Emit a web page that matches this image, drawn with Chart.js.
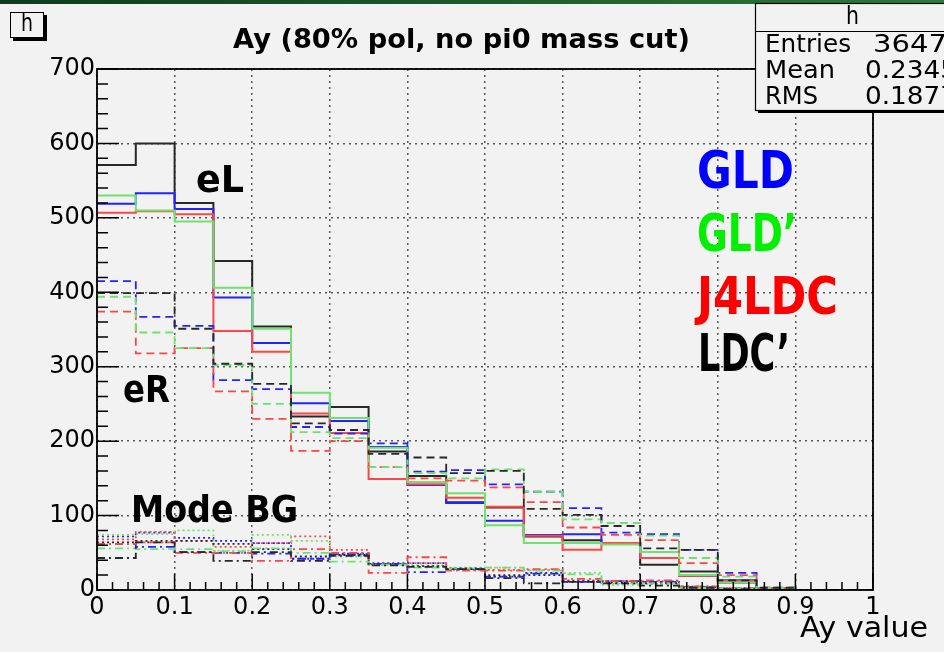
<!DOCTYPE html>
<html lang="en">
<head>
<meta charset="UTF-8">
<title>Ay (80% pol, no pi0 mass cut)</title>
<script src="https://cdn.jsdelivr.net/npm/chart.js"></script>
<style>
  html, body { margin: 0; padding: 0; background: #f2f2f2; }
  canvas { display: block; }
</style>
</head>
<body>
<canvas id="myChart" width="944" height="652"></canvas>
<script>
// histogram h : 20 bins from 0 to 1
const binEdges = [0, 0.05, 0.1, 0.15, 0.2, 0.25, 0.3, 0.35, 0.4, 0.45, 0.5,
                  0.55, 0.6, 0.65, 0.7, 0.75, 0.8, 0.85, 0.9, 0.95, 1];
const xTickValues = [0, 0.1, 0.2, 0.3, 0.4, 0.5, 0.6, 0.7, 0.8, 0.9, 1];
const xTickLabels = ['0', '0.1', '0.2', '0.3', '0.4', '0.5', '0.6', '0.7', '0.8', '0.9', '1'];
const yTickValues = [0, 100, 200, 300, 400, 500, 600, 700];
const yTickLabels = ['0', '100', '200', '300', '400', '500', '600', '700'];

const detectors = ['GLD', 'GLD’', 'J4LDC', 'LDC’'];
const colors = ['rgb(35,35,255)', 'rgb(110,225,110)', 'rgb(255,70,70)', 'rgb(40,40,40)'];

// eL (solid)
const eL_GLD   = [519, 533, 512, 393, 332, 251, 227, 192, 141, 117, 93, 74, 75, 63, 43, 19, 13, 2, 0, 0];
const eL_GLDp  = [530, 510, 495, 406, 351, 265, 231, 191, 145, 130, 87, 63, 63, 61, 51, 20, 10, 2, 0, 0];
const eL_J4LDC = [507, 509, 505, 348, 320, 237, 211, 149, 142, 124, 112, 73, 54, 63, 43, 19, 12, 2, 0, 0];
const eL_LDCp  = [571, 600, 520, 442, 354, 233, 246, 186, 153, 118, 111, 72, 67, 63, 34, 25, 10, 2, 0, 0];

// eR (dashed)
const eR_GLD   = [415, 367, 355, 282, 270, 219, 210, 197, 159, 161, 142, 132, 110, 77, 75, 54, 23, 3, 0, 0];
const eR_GLDp  = [394, 346, 325, 302, 250, 212, 204, 165, 157, 150, 162, 132, 95, 90, 73, 43, 18, 3, 0, 0];
const eR_J4LDC = [374, 318, 325, 267, 230, 187, 200, 165, 150, 147, 138, 118, 84, 74, 67, 36, 20, 2, 0, 0];
const eR_LDCp  = [399, 399, 351, 304, 277, 224, 215, 183, 178, 157, 160, 109, 101, 86, 56, 54, 13, 3, 0, 0];

// Mode BG (dotted)
const bgA_GLD   = [72, 77, 70, 66, 63, 42, 49, 36, 36, 28, 18, 23, 11, 12, 11, 4, 2, 0, 0, 0];
const bgA_GLDp  = [74, 75, 80, 53, 74, 66, 45, 34, 33, 30, 30, 27, 23, 7, 8, 3, 2, 0, 0, 0];
const bgA_J4LDC = [68, 78, 66, 58, 63, 72, 54, 34, 36, 27, 27, 27, 13, 12, 12, 5, 2, 0, 0, 0];
const bgA_LDCp  = [64, 66, 66, 62, 55, 45, 47, 35, 32, 29, 20, 20, 12, 10, 9, 3, 1, 0, 0, 0];

// Mode BG (dash-dot)
const bgB_GLD   = [62, 58, 51, 50, 49, 42, 48, 35, 24, 28, 18, 22, 11, 12, 11, 4, 2, 0, 0, 0];
const bgB_GLDp  = [56, 55, 55, 52, 56, 50, 38, 34, 30, 29, 30, 26, 21, 9, 9, 3, 2, 0, 0, 0];
const bgB_J4LDC = [62, 64, 50, 50, 39, 55, 50, 23, 44, 26, 26, 28, 15, 12, 13, 5, 2, 0, 0, 0];
const bgB_LDCp  = [43, 64, 51, 39, 51, 39, 46, 33, 31, 28, 16, 9, 11, 9, 6, 3, 1, 0, 0, 0];

const FONT = '"DejaVu Sans", sans-serif';

function hist(values) {
    const pts = values.map((v, i) => ({ x: binEdges[i], y: v }));
    pts.push({ x: binEdges[binEdges.length - 1], y: values[values.length - 1] });
    return pts;
}

function makeSet(label, values, colorIdx, dash, width) {
    return {
        label: label,
        data: hist(values),
        stepped: 'before',   // horizontal at previous value, then vertical
        borderColor: colors[colorIdx],
        borderWidth: width,
        borderDash: dash,
        pointRadius: 0,
        fill: false,
        tension: 0
    };
}

const DASH = [8, 5];
const DOT = [2, 3];
const DASHDOT = [8, 4, 2, 4];

const datasets = [
    makeSet('BG dashdot LDC’', bgB_LDCp, 3, DASHDOT, 1.8),
    makeSet('BG dashdot GLD’', bgB_GLDp, 1, DASHDOT, 1.8),
    makeSet('BG dashdot J4LDC', bgB_J4LDC, 2, DASHDOT, 1.8),
    makeSet('BG dashdot GLD', bgB_GLD, 0, DASHDOT, 1.8),
    makeSet('BG dot LDC’', bgA_LDCp, 3, DOT, 1.8),
    makeSet('BG dot GLD’', bgA_GLDp, 1, DOT, 1.8),
    makeSet('BG dot J4LDC', bgA_J4LDC, 2, DOT, 1.8),
    makeSet('BG dot GLD', bgA_GLD, 0, DOT, 1.8),
    makeSet('eR LDC’', eR_LDCp, 3, DASH, 1.8),
    makeSet('eR GLD’', eR_GLDp, 1, DASH, 1.8),
    makeSet('eR J4LDC', eR_J4LDC, 2, DASH, 1.8),
    makeSet('eR GLD', eR_GLD, 0, DASH, 1.8),
    makeSet('eL GLD’', eL_GLDp, 1, [], 2),
    makeSet('eL J4LDC', eL_J4LDC, 2, [], 2),
    makeSet('eL GLD', eL_GLD, 0, [], 2),
    makeSet('eL LDC’', eL_LDCp, 3, [], 2)
];

// draw text stretched to a given width
function fitText(ctx, text, x, yMid, width, font, color) {
    ctx.save();
    ctx.font = font;
    ctx.fillStyle = color;
    ctx.textBaseline = 'middle';
    ctx.textAlign = 'left';
    const w = ctx.measureText(text).width;
    ctx.translate(x, yMid);
    ctx.scale(width / w, 1);
    ctx.fillText(text, 0, 0);
    ctx.restore();
}

const rootPlugin = {
    id: 'rootPlugin',
    beforeDraw(chart) {
        const ctx = chart.ctx;
        ctx.save();
        ctx.fillStyle = '#f2f2f2';
        ctx.fillRect(0, 0, chart.width, chart.height);
        const g = ctx.createLinearGradient(0, 0, chart.width, 0);
        g.addColorStop(0, '#0f3b1c');
        g.addColorStop(0.5, '#1d5a2c');
        g.addColorStop(1, '#2f7a3a');
        ctx.fillStyle = g;
        ctx.fillRect(0, 0, chart.width, 4);
        ctx.restore();
    },
    afterDatasetsDraw(chart) {
        const ctx = chart.ctx;
        const a = chart.chartArea;
        const xs = chart.scales.x, ys = chart.scales.y;
        ctx.save();
        // frame
        ctx.strokeStyle = '#000';
        ctx.lineWidth = 1.8;
        ctx.strokeRect(a.left, a.top, a.right - a.left, a.bottom - a.top);
        // inner tick marks
        ctx.lineWidth = 1.5;
        ctx.beginPath();
        for (let v = 0; v <= 700.001; v += 20) {
            const y = ys.getPixelForValue(v);
            const len = (Math.round(v) % 100 === 0) ? 22 : 11;
            ctx.moveTo(a.left, y); ctx.lineTo(a.left + len, y);
        }
        for (let k = 0; k <= 50; k++) {
            const x = xs.getPixelForValue(k * 0.02);
            const len = (k % 5 === 0) ? 16 : 8;
            ctx.moveTo(x, a.bottom); ctx.lineTo(x, a.bottom - len);
        }
        ctx.stroke();

        // annotations
        const bold = 'bold 38px ' + FONT;
        fitText(ctx, 'eL', 196, 182, 48, bold, '#000');
        fitText(ctx, 'eR', 123, 392, 47, bold, '#000');
        fitText(ctx, 'Mode BG', 131, 512, 167, bold, '#000');
        const big = 'bold 52px ' + FONT;
        fitText(ctx, detectors[0], 697, 174, 97, big, 'rgb(0,0,255)');
        fitText(ctx, detectors[1], 697, 237, 100, big, 'rgb(0,240,0)');
        fitText(ctx, detectors[2], 697, 300, 141, big, 'rgb(255,0,0)');
        fitText(ctx, detectors[3], 698, 357, 92, big, '#000');
        ctx.restore();
    },
    afterDraw(chart) {
        const ctx = chart.ctx;
        ctx.save();
        // title
        fitText(ctx, 'Ay (80% pol, no pi0 mass cut)', 233, 41, 457, 'bold 27px ' + FONT, '#000');
        // axis title
        fitText(ctx, 'Ay value', 800, 630, 128, '28px ' + FONT, '#000');

        // small "h" box
        ctx.fillStyle = '#000';
        ctx.fillRect(13, 15, 34, 26);
        ctx.fillStyle = '#f2f2f2';
        ctx.fillRect(10, 12, 34, 26);
        ctx.strokeStyle = '#000';
        ctx.lineWidth = 1;
        ctx.strokeRect(10.5, 12.5, 33, 25);
        fitText(ctx, 'h', 21, 25, 12, '24px ' + FONT, '#000');

        // stats box
        ctx.fillStyle = '#000';
        ctx.fillRect(758, 6, 200, 107);
        ctx.fillStyle = '#f2f2f2';
        ctx.fillRect(755, 3, 200, 107);
        ctx.strokeStyle = '#000';
        ctx.lineWidth = 1.2;
        ctx.strokeRect(755.5, 3.5, 200, 107);
        ctx.beginPath();
        ctx.moveTo(755, 31.5); ctx.lineTo(944, 31.5);
        ctx.stroke();
        const sf = '25px ' + FONT;
        fitText(ctx, 'h', 846, 17, 13, sf, '#000');
        fitText(ctx, 'Entries', 765, 45, 86, sf, '#000');
        fitText(ctx, '3647', 873, 45, 74, sf, '#000');
        fitText(ctx, 'Mean', 765, 71, 70, sf, '#000');
        fitText(ctx, '0.2345', 865, 71, 92, sf, '#000');
        fitText(ctx, 'RMS', 765, 97, 53, sf, '#000');
        fitText(ctx, '0.1877', 865, 97, 92, sf, '#000');
        ctx.restore();
    }
};

const ctx = document.getElementById('myChart').getContext('2d');
const myChart = new Chart(ctx, {
    type: 'line',
    data: { datasets: datasets },
    options: {
        responsive: false,
        animation: false,
        layout: { padding: { left: 0, right: 71, top: 69, bottom: 0 } },
        plugins: { legend: { display: false }, tooltip: { enabled: false } },
        scales: {
            x: {
                type: 'linear',
                min: 0,
                max: 1,
                afterBuildTicks: s => { s.ticks = xTickValues.map(v => ({ value: v })); },
                afterFit: s => { s.height = 62; },
                ticks: {
                    callback: (v, i) => xTickLabels[i],
                    font: { family: FONT, size: 24 },
                    color: '#000',
                    padding: 3,
                    maxRotation: 0,
                    autoSkip: false
                },
                grid: { color: 'rgba(70,70,70,0.9)', lineWidth: 1.5, drawTicks: false },
                border: { display: false, dash: [2, 4] }
            },
            y: {
                type: 'linear',
                min: 0,
                max: 700,
                afterBuildTicks: s => { s.ticks = yTickValues.map(v => ({ value: v })); },
                afterFit: s => { s.width = 97; },
                ticks: {
                    callback: (v, i) => yTickLabels[i],
                    font: { family: FONT, size: 24 },
                    color: '#000',
                    padding: 2
                },
                grid: { color: 'rgba(70,70,70,0.9)', lineWidth: 1.5, drawTicks: false },
                border: { display: false, dash: [2, 4] }
            }
        }
    },
    plugins: [rootPlugin]
});
</script>
</body>
</html>
